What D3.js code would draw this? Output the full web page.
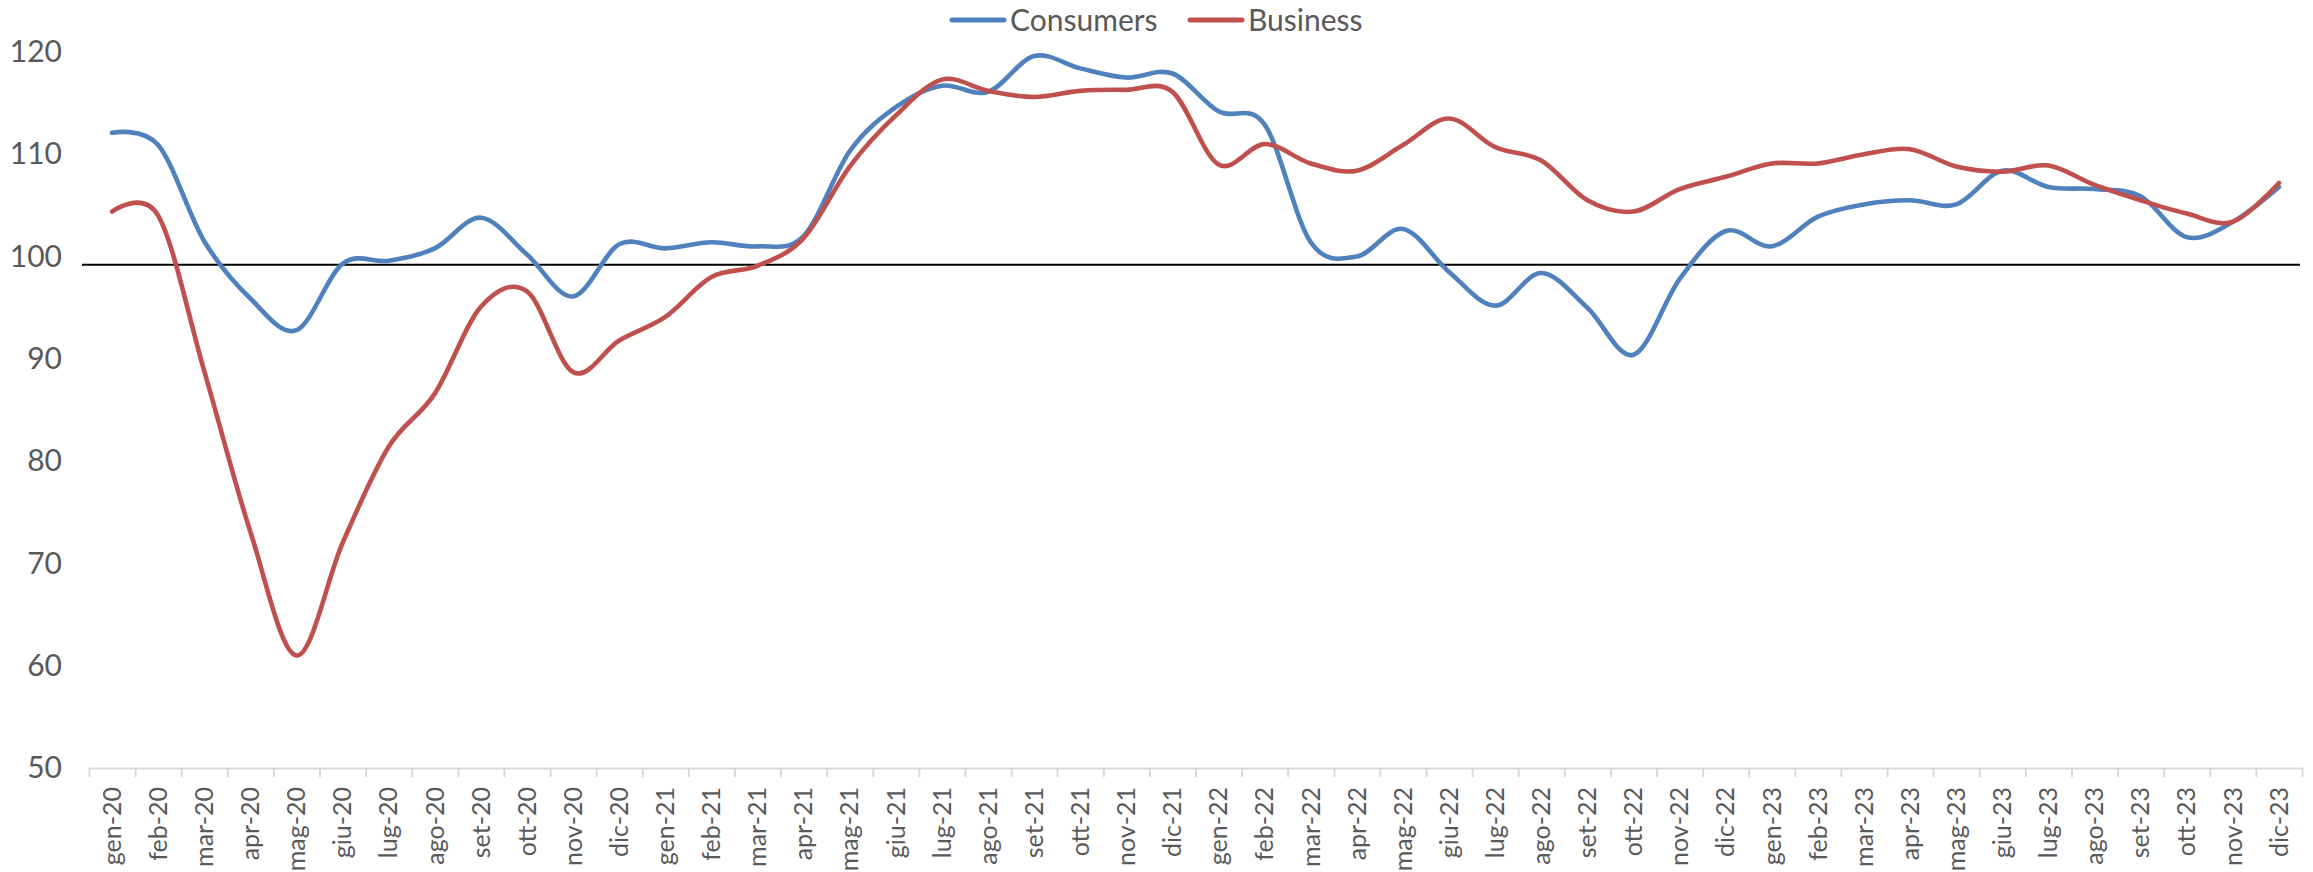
<!DOCTYPE html>
<html>
<head>
<meta charset="utf-8">
<script src="https://cdn.jsdelivr.net/npm/d3@7"></script>
<style>
  html, body { margin: 0; padding: 0; background: #ffffff; }
  svg { display: block; }
  text { font-family: Lato, "Open Sans", sans-serif; fill: #595959; }
</style>
</head>
<body>
<svg id="chart" width="2313" height="872"></svg>
<script>
// Monthly confidence indices, Jan 2020 – Dec 2023
const months = [
  "gen-20","feb-20","mar-20","apr-20","mag-20","giu-20","lug-20","ago-20","set-20","ott-20","nov-20","dic-20",
  "gen-21","feb-21","mar-21","apr-21","mag-21","giu-21","lug-21","ago-21","set-21","ott-21","nov-21","dic-21",
  "gen-22","feb-22","mar-22","apr-22","mag-22","giu-22","lug-22","ago-22","set-22","ott-22","nov-22","dic-22",
  "gen-23","feb-23","mar-23","apr-23","mag-23","giu-23","lug-23","ago-23","set-23","ott-23","nov-23","dic-23"
];

const consumers = [
  112.1, 110.9, 101.5, 95.9, 92.8, 99.3, 99.6, 100.8, 103.8, 100.2, 96.1, 101.2,
  100.8, 101.4, 101.0, 102.0, 110.3, 114.6, 116.7, 116.1, 119.6, 118.4, 117.5, 117.9,
  114.2, 112.9, 101.4, 100.0, 102.7, 98.5, 95.2, 98.4, 95.0, 90.4, 97.8, 102.5,
  101.0, 103.9, 105.1, 105.5, 105.1, 108.4, 106.8, 106.6, 105.9, 101.9, 103.4, 106.8
];

const business = [
  104.4, 104.0, 88.8, 73.1, 61.0, 72.0, 81.4, 86.6, 95.1, 96.6, 88.7, 91.8,
  94.1, 98.0, 99.1, 101.8, 108.8, 113.8, 117.3, 116.2, 115.6, 116.2, 116.3, 116.1,
  109.0, 111.0, 109.1, 108.4, 110.9, 113.5, 110.7, 109.4, 105.5, 104.4, 106.6, 107.8,
  109.1, 109.1, 110.0, 110.5, 108.8, 108.3, 108.9, 107.0, 105.5, 104.2, 103.4, 107.2
];

const yTicks = [50, 60, 70, 80, 90, 100, 110, 120];
const referenceLevel = 99.2;

const seriesNames = ["Consumers", "Business"];
const seriesColors = ["#4F81BD", "#C0504D"];
const seriesData = [consumers, business];

const svg = d3.select("#chart");

const plotLeft = 89, plotRight = 2302, plotTop = 52, plotBottom = 768;

// Category positions: boundaries on a linear index scale, points at the middle of each slot
const xIdx = d3.scaleLinear().domain([0, months.length]).range([plotLeft, plotRight]);
const y = d3.scaleLinear().domain([50, 120]).range([plotBottom, plotTop]);

// Y axis labels
const yAxis = svg.append("g")
  .attr("transform", `translate(${plotLeft - 27},0)`)
  .call(d3.axisLeft(y).tickValues(yTicks).tickSize(0).tickPadding(0).tickFormat(d3.format("d")));
yAxis.select(".domain").remove();
yAxis.selectAll("text")
  .style("font-family", "Lato, sans-serif")
  .style("font-size", "30px")
  .attr("fill", "#595959");

// X axis: baseline with tick marks at category boundaries
const xAxis = svg.append("g")
  .attr("transform", `translate(0,${plotBottom})`)
  .call(d3.axisBottom(xIdx).tickValues(d3.range(months.length + 1)).tickSize(9).tickSizeOuter(0).tickFormat(""));
xAxis.select(".domain").attr("stroke", "#d9d9d9").attr("stroke-width", 2);
xAxis.selectAll(".tick line").attr("stroke", "#d9d9d9").attr("stroke-width", 2);

// Month labels, rotated, centred in each slot
const labelAxis = svg.append("g")
  .attr("transform", `translate(0,${plotBottom})`)
  .call(d3.axisBottom(xIdx)
    .tickValues(d3.range(months.length).map(i => i + 0.5))
    .tickSize(0)
    .tickFormat((d, i) => months[i]));
labelAxis.select(".domain").remove();
labelAxis.selectAll("text")
  .attr("transform", "rotate(-90)")
  .attr("text-anchor", "end")
  .attr("x", -19)
  .attr("y", 0)
  .attr("dy", "0.33em")
  .style("font-family", "Lato, sans-serif")
  .style("font-size", "25px")
  .attr("fill", "#595959");

// Reference level line
svg.append("line")
  .attr("x1", plotLeft - 7)
  .attr("x2", plotRight - 2)
  .attr("y1", y(referenceLevel))
  .attr("y2", y(referenceLevel))
  .attr("stroke", "#000000")
  .attr("stroke-width", 2.2);

// Smoothed series lines
const line = d3.line()
  .x((d, i) => xIdx(i + 0.5))
  .y(d => y(d))
  .curve(d3.curveCardinal.tension(0));

seriesData.forEach((vals, k) => {
  svg.append("path")
    .datum(vals)
    .attr("d", line)
    .attr("fill", "none")
    .attr("stroke", seriesColors[k])
    .attr("stroke-width", 4.6)
    .attr("stroke-linecap", "round")
    .attr("stroke-linejoin", "round");
});

// Legend
const legendItems = [
  { name: seriesNames[0], color: seriesColors[0], x: 952 },
  { name: seriesNames[1], color: seriesColors[1], x: 1190 }
];
const legend = svg.append("g").attr("transform", "translate(0,20)");
legendItems.forEach(item => {
  legend.append("line")
    .attr("x1", item.x).attr("x2", item.x + 52)
    .attr("y1", 0).attr("y2", 0)
    .attr("stroke", item.color)
    .attr("stroke-width", 5)
    .attr("stroke-linecap", "round");
  legend.append("text")
    .attr("x", item.x + 58)
    .attr("y", 0)
    .attr("dy", "0.36em")
    .style("font-size", "30px")
    .text(item.name);
});
</script>
</body>
</html>
